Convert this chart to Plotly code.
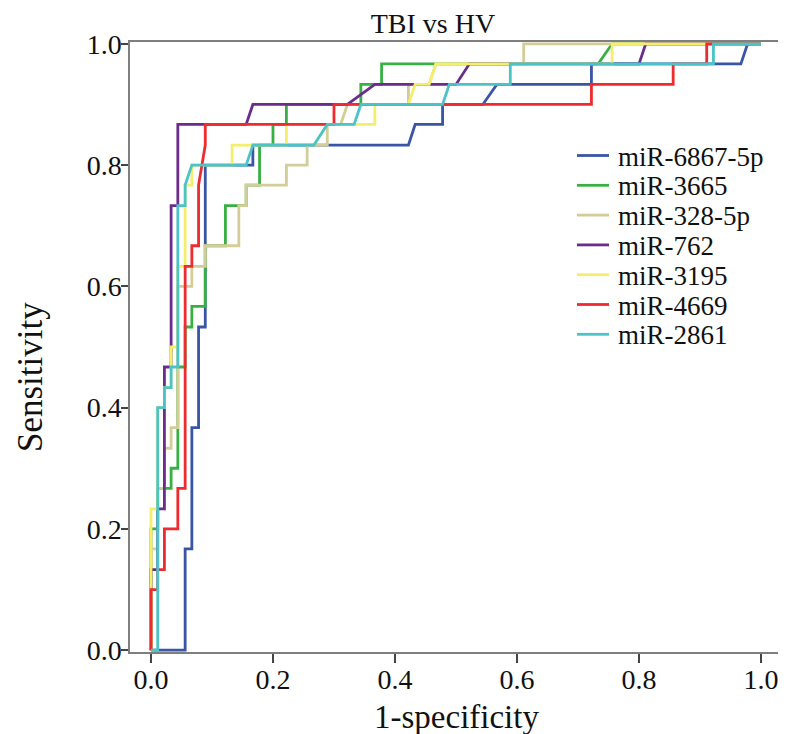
import plotly.graph_objects as go

# ---- data ----
series_names = ["miR-6867-5p", "miR-3665", "miR-328-5p", "miR-762", "miR-3195", "miR-4669", "miR-2861"]
series_colors = ["#3a55a6", "#38b044", "#d3cd97", "#6b2c8c", "#f4ee6a", "#ee2b2e", "#4bc3c7"]

fpr_6867 = [0, 0.056, 0.056, 0.067, 0.067, 0.078, 0.078, 0.089, 0.089, 0.167, 0.167, 0.422, 0.433, 0.478, 0.478, 0.544, 0.567, 0.722, 0.722, 0.967, 0.978, 1.0]
tpr_6867 = [0, 0, 0.167, 0.167, 0.367, 0.367, 0.533, 0.533, 0.8, 0.8, 0.833, 0.833, 0.867, 0.867, 0.9, 0.9, 0.933, 0.933, 0.967, 0.967, 1.0, 1.0]

fpr_3665 = [0, 0, 0.011, 0.011, 0.033, 0.033, 0.044, 0.044, 0.056, 0.056, 0.067, 0.067, 0.089, 0.089, 0.122, 0.122, 0.156, 0.156, 0.178, 0.178, 0.2, 0.2, 0.222, 0.222, 0.344, 0.344, 0.378, 0.378, 0.733, 0.756, 1.0]
tpr_3665 = [0, 0.2, 0.2, 0.267, 0.267, 0.3, 0.3, 0.467, 0.467, 0.533, 0.533, 0.567, 0.567, 0.667, 0.667, 0.733, 0.733, 0.767, 0.767, 0.833, 0.833, 0.867, 0.867, 0.9, 0.9, 0.933, 0.933, 0.967, 0.967, 1.0, 1.0]

fpr_328 = [0, 0, 0.011, 0.011, 0.022, 0.022, 0.033, 0.033, 0.044, 0.044, 0.067, 0.067, 0.089, 0.089, 0.144, 0.144, 0.156, 0.156, 0.222, 0.222, 0.256, 0.256, 0.289, 0.289, 0.311, 0.322, 0.422, 0.422, 0.456, 0.467, 0.611, 0.611, 1.0]
tpr_328 = [0, 0.167, 0.167, 0.267, 0.267, 0.333, 0.333, 0.367, 0.367, 0.6, 0.6, 0.633, 0.633, 0.667, 0.667, 0.733, 0.733, 0.767, 0.767, 0.8, 0.8, 0.833, 0.833, 0.867, 0.867, 0.9, 0.9, 0.933, 0.933, 0.967, 0.967, 1.0, 1.0]

fpr_762 = [0, 0, 0.011, 0.011, 0.022, 0.022, 0.033, 0.033, 0.044, 0.044, 0.156, 0.167, 0.322, 0.367, 0.5, 0.522, 0.8, 0.811, 1.0]
tpr_762 = [0, 0.133, 0.133, 0.233, 0.233, 0.467, 0.467, 0.733, 0.733, 0.867, 0.867, 0.9, 0.9, 0.933, 0.933, 0.967, 0.967, 1.0, 1.0]

fpr_3195 = [0, 0, 0.011, 0.011, 0.022, 0.022, 0.033, 0.033, 0.044, 0.044, 0.056, 0.056, 0.067, 0.067, 0.133, 0.133, 0.222, 0.222, 0.367, 0.367, 0.422, 0.433, 0.456, 0.467, 0.756, 0.756, 1.0]
tpr_3195 = [0, 0.233, 0.233, 0.4, 0.4, 0.433, 0.433, 0.5, 0.5, 0.633, 0.633, 0.767, 0.767, 0.8, 0.8, 0.833, 0.833, 0.867, 0.867, 0.9, 0.9, 0.933, 0.933, 0.967, 0.967, 1.0, 1.0]

fpr_4669 = [0, 0, 0.011, 0.011, 0.022, 0.022, 0.044, 0.044, 0.056, 0.056, 0.067, 0.067, 0.078, 0.078, 0.089, 0.089, 0.3, 0.3, 0.722, 0.722, 0.856, 0.856, 0.911, 0.911, 1.0]
tpr_4669 = [0, 0.1, 0.1, 0.133, 0.133, 0.2, 0.2, 0.267, 0.267, 0.633, 0.633, 0.667, 0.667, 0.767, 0.833, 0.867, 0.867, 0.9, 0.9, 0.933, 0.933, 0.967, 0.967, 1.0, 1.0]

fpr_2861 = [0, 0.011, 0.011, 0.022, 0.022, 0.033, 0.033, 0.044, 0.044, 0.056, 0.056, 0.067, 0.156, 0.167, 0.267, 0.289, 0.333, 0.344, 0.478, 0.489, 0.589, 0.589, 0.922, 0.922, 1.0]
tpr_2861 = [0, 0, 0.4, 0.4, 0.433, 0.433, 0.467, 0.467, 0.733, 0.733, 0.767, 0.8, 0.8, 0.833, 0.833, 0.867, 0.867, 0.9, 0.9, 0.933, 0.933, 0.967, 0.967, 1.0, 1.0]

tick_values = [0.0, 0.2, 0.4, 0.6, 0.8, 1.0]
tick_labels = ["0.0", "0.2", "0.4", "0.6", "0.8", "1.0"]

curves = [(fpr_6867, tpr_6867), (fpr_3665, tpr_3665), (fpr_328, tpr_328), (fpr_762, tpr_762),
          (fpr_3195, tpr_3195), (fpr_4669, tpr_4669), (fpr_2861, tpr_2861)]

# ---- figure ----
# the page body has an 8px default margin, so the figure is laid out 8px smaller
OFF = 8
W, H = 786 - OFF, 734 - OFF
PL, PR, PT, PB = 130 - OFF, 782 - OFF, 42 - OFF, 652 - OFF   # plot area in figure pixels
FONT = "Liberation Serif, Times New Roman, serif"
TXT = "#111111"

fig = go.Figure()
for name, color, (xs, ys) in zip(series_names, series_colors, curves):
    fig.add_trace(go.Scatter(x=xs, y=ys, mode="lines", name=name,
                             line=dict(color=color, width=2.8),
                             showlegend=False))

def px_x(px):
    """reference-image x pixel -> paper coordinate"""
    return (px - OFF - PL) / (PR - PL)

def px_y(py):
    """reference-image y pixel -> paper coordinate"""
    return (PB - (py - OFF)) / (PB - PT)

# legend drawn as text + sample lines
for i, (name, color) in enumerate(zip(series_names, series_colors)):
    yc = 155.5 + 29.8 * i
    fig.add_shape(type="line", xref="paper", yref="paper",
                  x0=px_x(577), x1=px_x(609), y0=px_y(yc), y1=px_y(yc),
                  line=dict(color=color, width=2.8))
    fig.add_annotation(text=name, xref="paper", yref="paper",
                       x=px_x(616), y=px_y(yc + 1),
                       xanchor="left", yanchor="middle", showarrow=False,
                       font=dict(family=FONT, size=27, color=TXT))

# axis titles
fig.add_annotation(text="Sensitivity", xref="paper", yref="paper",
                   x=px_x(30), y=px_y(377), textangle=-90,
                   xanchor="center", yanchor="middle", showarrow=False,
                   font=dict(family=FONT, size=35, color=TXT))
fig.add_annotation(text="1-specificity", xref="paper", yref="paper",
                   x=px_x(456), y=px_y(717),
                   xanchor="center", yanchor="middle", showarrow=False,
                   font=dict(family=FONT, size=33, color=TXT))

fig.update_layout(
    width=W, height=H, autosize=False,
    margin=dict(l=PL, r=W - PR, t=PT, b=H - PB, pad=0),
    paper_bgcolor="white", plot_bgcolor="white",
    font=dict(family=FONT, color=TXT),
    title=dict(text="TBI vs HV", x=(433 - OFF) / W, xanchor="center",
               y=1 - (23 - OFF) / H, yanchor="middle", yref="container",
               font=dict(family=FONT, size=28, color=TXT)),
    xaxis=dict(range=[-0.0344, 1.0344], tickvals=tick_values, ticktext=tick_labels,
               showgrid=False, zeroline=False, showline=True, mirror=True,
               linecolor="#7f7f7f", linewidth=1.5,
               ticks="outside", ticklen=9, tickwidth=1.5, tickcolor="#444444",
               ticklabelstandoff=-7,
               tickfont=dict(family=FONT, size=28, color=TXT)),
    yaxis=dict(range=[-0.003, 1.003], tickvals=tick_values, ticktext=tick_labels,
               showgrid=False, zeroline=False, showline=True, mirror=False,
               linecolor="#7f7f7f", linewidth=1.5,
               ticks="outside", ticklen=7, tickwidth=1.5, tickcolor="#444444",
               ticklabelstandoff=-6,
               tickfont=dict(family=FONT, size=28, color=TXT)),
)

fig.write_html("out.html")
